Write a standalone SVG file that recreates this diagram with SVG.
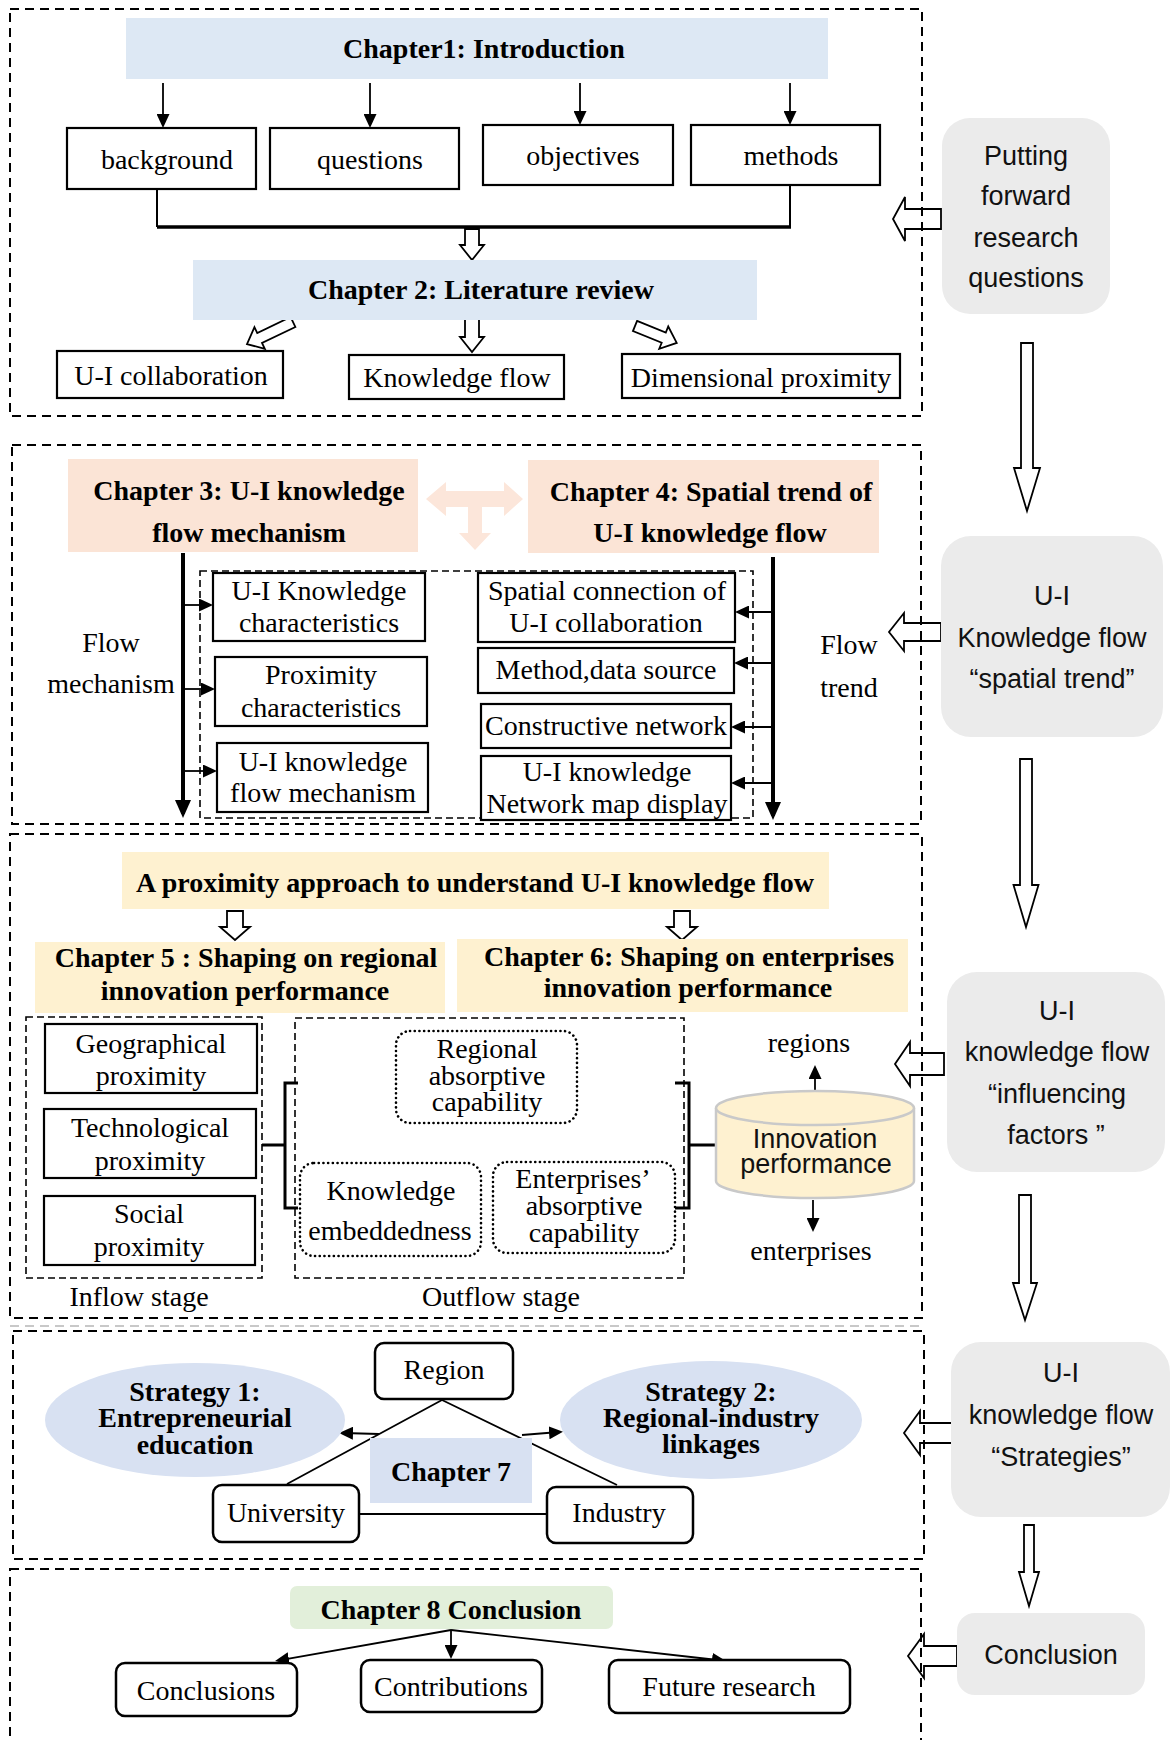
<svg xmlns="http://www.w3.org/2000/svg" width="1171" height="1740" viewBox="0 0 1171 1740">
<defs>
<style>
.sec{fill:none;stroke:#000;stroke-width:2;stroke-dasharray:9 6}
.inr{fill:none;stroke:#000;stroke-width:1.6;stroke-dasharray:7 4}
.box{fill:#fff;stroke:#000;stroke-width:2.2}
.rb{fill:#fff;stroke:#000;stroke-width:2.5}
.dot{fill:#fff;stroke:#000;stroke-width:2.6;stroke-dasharray:0.1 4.6;stroke-linecap:round}
.grey{fill:#ebebeb}
.blue{fill:#dde8f4}
.peach{fill:#fbe4d6}
.yel{fill:#fef1d0}
.lav{fill:#d8e1f2}
.grn{fill:#e2efda}
.t{font-family:"Liberation Serif","Times New Roman",serif;font-size:28px;text-anchor:middle;fill:#000}
.b{font-weight:bold}
.s{font-family:"Liberation Sans",Arial,Helvetica,sans-serif;font-size:27px;text-anchor:middle;fill:#111}
.ln{fill:none;stroke:#000;stroke-width:1.8}
.thk{fill:none;stroke:#000;stroke-width:4}
.ha{fill:#fff;stroke:#000;stroke-width:1.8}
.hs{fill:none;stroke:#000;stroke-width:1.8}
</style>
<marker id="a1" viewBox="0 0 14 13" refX="10" refY="6.5" markerWidth="14" markerHeight="13" markerUnits="userSpaceOnUse" orient="auto"><path d="M0,0 L14,6.5 L0,13 z"/></marker>
<marker id="a2" viewBox="0 0 18 16" refX="14" refY="8" markerWidth="18" markerHeight="16" markerUnits="userSpaceOnUse" orient="auto"><path d="M0,0 L18,8 L0,16 z"/></marker>
</defs>
<rect width="1171" height="1740" fill="#fff"/>

<!-- chapter frames -->
<g id="frames">
<rect class="sec" x="10" y="9" width="912" height="407"/>
<rect class="sec" x="12" y="445" width="909" height="379"/>
<rect class="sec" x="10" y="834" width="912" height="484"/>
<line x1="10" y1="1326" x2="922" y2="1326" stroke="#c8c8c8" stroke-width="2" stroke-dasharray="9 6"/>
<rect class="sec" x="13" y="1331" width="911" height="228"/>
<rect class="sec" x="10" y="1569" width="911" height="200"/>
<rect class="inr" x="200" y="571" width="553" height="247"/>
<rect class="inr" x="26" y="1017" width="236" height="261"/>
<rect class="inr" x="295" y="1018" width="389" height="260"/>
</g>

<!-- connectors -->
<g id="connectors">
<line class="ln" x1="163" y1="83" x2="163" y2="124" marker-end="url(#a1)"/>
<line class="ln" x1="370" y1="83" x2="370" y2="124" marker-end="url(#a1)"/>
<line class="ln" x1="580" y1="83" x2="580" y2="121" marker-end="url(#a1)"/>
<line class="ln" x1="790" y1="83" x2="790" y2="121" marker-end="url(#a1)"/>
<path d="M157,189 V227 M790,185 V227" fill="none" stroke="#000" stroke-width="2"/>
<line x1="157" y1="227" x2="791" y2="227" stroke="#000" stroke-width="3.5"/>
<polygon class="ha" points="465,229 479,229 479,245 484,245 472,260 460,245 465,245"/>
<polygon class="ha" points="465,316 479,316 479,337 484,337 472,352 460,337 465,337"/>
<polygon class="ha" transform="translate(293,322) rotate(154.4)" points="0,-5.5 37,-5.5 37,-12 51,0 37,12 37,5.5 0,5.5"/>
<polygon class="ha" transform="translate(635,326) rotate(22)" points="0,-5.5 31,-5.5 31,-12 45,0 31,12 31,5.5 0,5.5"/>

<polygon fill="#fce6da" points="426,499 446,482 446,491 504,491 504,482 523,499 504,516 504,507 482,507 482,533 491,533 475,550 459,533 468,533 468,507 446,507 446,516"/>
<line class="thk" x1="183" y1="553" x2="183" y2="814" marker-end="url(#a2)"/>
<line class="ln" x1="183" y1="605" x2="209" y2="605" marker-end="url(#a1)"/>
<line class="ln" x1="183" y1="689" x2="211" y2="689" marker-end="url(#a1)"/>
<line class="ln" x1="183" y1="771" x2="213" y2="771" marker-end="url(#a1)"/>
<line class="thk" x1="773" y1="557" x2="773" y2="816" marker-end="url(#a2)"/>
<line class="ln" x1="773" y1="612" x2="739" y2="612" marker-end="url(#a1)"/>
<line class="ln" x1="773" y1="663" x2="738" y2="663" marker-end="url(#a1)"/>
<line class="ln" x1="773" y1="727" x2="735" y2="727" marker-end="url(#a1)"/>
<line class="ln" x1="773" y1="783" x2="735" y2="783" marker-end="url(#a1)"/>

<polygon class="ha" points="227,911 243,911 243,927 250,927 235,940 220,927 227,927"/>
<polygon class="ha" points="674,911 690,911 690,927 697,927 682,940 667,927 674,927"/>
<path d="M262,1145 H285 M298,1083 H285 V1208 H298" fill="none" stroke="#000" stroke-width="3"/>
<path d="M675,1083 H689 V1208 H675 M689,1145 H716" fill="none" stroke="#000" stroke-width="3"/>
<line class="ln" x1="815" y1="1092" x2="815" y2="1069" marker-end="url(#a1)"/>
<line class="ln" x1="813" y1="1200" x2="813" y2="1228" marker-end="url(#a1)"/>

<path class="ln" d="M442,1400 L287,1484 M442,1400 L617,1485 M359,1514 H547"/>
<line class="ln" x1="379" y1="1434" x2="343" y2="1433" marker-end="url(#a1)"/>
<line class="ln" x1="522" y1="1435" x2="559" y2="1432" marker-end="url(#a1)"/>

<line class="ln" x1="451" y1="1630" x2="279" y2="1660.3" marker-end="url(#a1)"/>
<line class="ln" x1="451" y1="1630" x2="451" y2="1655" marker-end="url(#a1)"/>
<line class="ln" x1="451" y1="1630" x2="722" y2="1660.5" marker-end="url(#a1)"/>

<!-- side column flow -->
<polygon class="hs" points="941,209 905,209 905,197 893,219 905,241 905,229 941,229"/>
<polygon class="ha" points="1021,343 1033,343 1033,468 1040,468 1027,511 1014,468 1021,468"/>
<polygon class="hs" points="941,623 904,623 904,613 889,632 904,651 904,641 941,641"/>
<polygon class="ha" points="1020,759 1032,759 1032,885 1038.5,885 1026,927 1013.5,885 1020,885"/>
<polygon class="hs" points="944,1053 910,1053 910,1042 895,1064 910,1086 910,1075 944,1075"/>
<polygon class="ha" points="1019,1195 1031,1195 1031,1283 1037,1283 1025,1320 1013,1283 1019,1283"/>
<polygon class="hs" points="954,1423 920,1423 920,1411 904,1433 920,1455 920,1443 954,1443"/>
<polygon class="ha" points="1024,1525 1034,1525 1034,1572 1039,1572 1029,1606 1019,1572 1024,1572"/>
<polygon class="hs" points="957,1646 924,1646 924,1634 908,1656 924,1678 924,1666 957,1666"/>
</g>

<!-- chapter 1 and 2 -->
<g id="ch1"><rect class="blue" x="126" y="18" width="702" height="61"/><text class="t b" x="484" y="58">Chapter1: Introduction</text></g>
<g id="background"><rect class="box" x="67" y="128" width="189" height="61"/><text class="t" x="167" y="169">background</text></g>
<g id="questions"><rect class="box" x="270" y="128" width="189" height="61"/><text class="t" x="370" y="169">questions</text></g>
<g id="objectives"><rect class="box" x="483" y="125" width="190" height="60"/><text class="t" x="583" y="165">objectives</text></g>
<g id="methods"><rect class="box" x="691" y="125" width="189" height="60"/><text class="t" x="791" y="165">methods</text></g>
<g id="ch2"><rect class="blue" x="193" y="260" width="564" height="60"/><text class="t b" x="481" y="299">Chapter 2: Literature review</text></g>
<g id="ui-collab"><rect class="box" x="57" y="351" width="226" height="47"/><text class="t" x="171" y="385">U-I collaboration</text></g>
<g id="kflow"><rect class="box" x="349" y="355" width="215" height="44"/><text class="t" x="457" y="387">Knowledge flow</text></g>
<g id="dimprox"><rect class="box" x="622" y="354" width="278" height="44"/><text class="t" x="761" y="387">Dimensional proximity</text></g>
<g id="side1"><rect class="grey" x="942" y="118" width="168" height="196" rx="28"/>
<text class="s" x="1026" y="165">Putting</text><text class="s" x="1026" y="205">forward</text><text class="s" x="1026" y="247">research</text><text class="s" x="1026" y="287">questions</text></g>

<!-- chapter 3 and 4 -->
<g id="ch3"><rect class="peach" x="68" y="459" width="350" height="93"/><text class="t b" x="249" y="500">Chapter 3: U-I knowledge</text><text class="t b" x="249" y="542">flow mechanism</text></g>
<g id="ch4"><rect class="peach" x="528" y="460" width="351" height="93"/><text class="t b" x="711" y="501">Chapter 4: Spatial trend of</text><text class="t b" x="710" y="542">U-I knowledge flow</text></g>
<g id="flow-mech-label"><text class="t" x="111" y="652">Flow</text><text class="t" x="111" y="693">mechanism</text></g>
<g id="kchar"><rect class="box" x="213" y="573" width="212" height="68"/><text class="t" x="319" y="600">U-I Knowledge</text><text class="t" x="319" y="632">characteristics</text></g>
<g id="pchar"><rect class="box" x="215" y="657" width="212" height="69"/><text class="t" x="321" y="684">Proximity</text><text class="t" x="321" y="717">characteristics</text></g>
<g id="kmech"><rect class="box" x="217" y="743" width="211" height="69"/><text class="t" x="323" y="771">U-I knowledge</text><text class="t" x="323" y="802">flow mechanism</text></g>
<g id="spatial"><rect class="box" x="478" y="573" width="257" height="69"/><text class="t" x="607" y="600">Spatial connection of</text><text class="t" x="606" y="632">U-I collaboration</text></g>
<g id="method"><rect class="box" x="478" y="648" width="256" height="45"/><text class="t" x="606" y="679">Method,data source</text></g>
<g id="constr"><rect class="box" x="481" y="704" width="250" height="44"/><text class="t" x="606" y="735">Constructive network</text></g>
<g id="netmap"><rect class="box" x="481" y="756" width="250" height="64"/><text class="t" x="607" y="781">U-I knowledge</text><text class="t" x="607" y="813">Network map display</text></g>
<g id="flow-trend-label"><text class="t" x="849" y="654">Flow</text><text class="t" x="849" y="697">trend</text></g>
<g id="side2"><rect class="grey" x="941" y="536" width="222" height="201" rx="30"/>
<text class="s" x="1052" y="605">U-I</text><text class="s" x="1052" y="647">Knowledge flow</text><text class="s" x="1052" y="688">“spatial trend”</text></g>

<!-- chapter 5 and 6 -->
<g id="approach"><rect class="yel" x="122" y="852" width="707" height="57"/><text class="t b" x="475" y="892">A proximity approach to understand U-I knowledge flow</text></g>
<g id="ch5"><rect class="yel" x="35" y="942" width="410" height="71"/><text class="t b" x="246" y="967">Chapter 5 : Shaping on regional</text><text class="t b" x="245" y="1000">innovation performance</text></g>
<g id="ch6"><rect class="yel" x="457" y="939" width="451" height="73"/><text class="t b" x="689" y="966">Chapter 6: Shaping on enterprises</text><text class="t b" x="688" y="997">innovation performance</text></g>
<g id="geo"><rect class="box" x="45" y="1024" width="212" height="69"/><text class="t" x="151" y="1053">Geographical</text><text class="t" x="151" y="1085">proximity</text></g>
<g id="tech"><rect class="box" x="44" y="1109" width="212" height="69"/><text class="t" x="150" y="1137">Technological</text><text class="t" x="150" y="1170">proximity</text></g>
<g id="social"><rect class="box" x="44" y="1196" width="211" height="69"/><text class="t" x="149" y="1223">Social</text><text class="t" x="149" y="1256">proximity</text></g>
<g id="inflow-label"><text class="t" x="139" y="1306">Inflow stage</text></g>
<g id="outflow-label"><text class="t" x="501" y="1306">Outflow stage</text></g>
<g id="reg-abs"><rect class="dot" x="396" y="1031" width="181" height="92" rx="14"/><text class="t" x="487" y="1058">Regional</text><text class="t" x="487" y="1085">absorptive</text><text class="t" x="487" y="1111">capability</text></g>
<g id="k-emb"><rect class="dot" x="300" y="1163" width="181" height="93" rx="14"/><text class="t" x="391" y="1200">Knowledge</text><text class="t" x="390" y="1240">embeddedness</text></g>
<g id="ent-abs"><rect class="dot" x="493" y="1162" width="182" height="91" rx="14"/><text class="t" x="583" y="1188">Enterprises’</text><text class="t" x="584" y="1215">absorptive</text><text class="t" x="584" y="1242">capability</text></g>
<g id="innov"><path d="M716,1108 V1181 A99,17 0 0,0 914,1181 V1108" fill="#fef1d0" stroke="#c9c9c9" stroke-width="2.5"/><ellipse cx="815" cy="1108" rx="99" ry="17" fill="#fef1d0" stroke="#c9c9c9" stroke-width="2.5"/>
<text class="s" x="815" y="1148">Innovation</text><text class="s" x="816" y="1173">performance</text></g>
<g id="regions-label"><text class="t" x="809" y="1052">regions</text></g>
<g id="enterprises-label"><text class="t" x="811" y="1260">enterprises</text></g>
<g id="side3"><rect class="grey" x="947" y="972" width="218" height="200" rx="30"/>
<text class="s" x="1057" y="1020">U-I</text><text class="s" x="1057" y="1061">knowledge flow</text><text class="s" x="1057" y="1103">“influencing</text><text class="s" x="1056" y="1144">factors ”</text></g>

<!-- chapter 7 -->
<g id="strat1"><ellipse class="lav" cx="195" cy="1420" rx="150" ry="57"/><text class="t b" x="195" y="1401">Strategy 1:</text><text class="t b" x="195" y="1427">Entrepreneurial</text><text class="t b" x="195" y="1454">education</text></g>
<g id="strat2"><ellipse class="lav" cx="711" cy="1420" rx="151" ry="59"/><text class="t b" x="711" y="1401">Strategy 2:</text><text class="t b" x="711" y="1427">Regional-industry</text><text class="t b" x="711" y="1453">linkages</text></g>
<g id="region"><rect class="rb" x="375" y="1343" width="138" height="56" rx="9"/><text class="t" x="444" y="1379">Region</text></g>
<g id="university"><rect class="rb" x="213" y="1485" width="146" height="57" rx="9"/><text class="t" x="286" y="1522">University</text></g>
<g id="industry"><rect class="rb" x="547" y="1487" width="146" height="56" rx="9"/><text class="t" x="619" y="1522">Industry</text></g>
<g id="ch7"><rect class="lav" x="370" y="1438" width="162" height="65"/><text class="t b" x="451" y="1481">Chapter 7</text></g>
<g id="side4"><rect class="grey" x="951" y="1342" width="219" height="175" rx="30"/>
<text class="s" x="1061" y="1382">U-I</text><text class="s" x="1061" y="1424">knowledge flow</text><text class="s" x="1061" y="1466">“Strategies”</text></g>

<!-- chapter 8 -->
<g id="ch8"><rect class="grn" x="290" y="1586" width="323" height="43" rx="7"/><text class="t b" x="451" y="1619">Chapter 8 Conclusion</text></g>
<g id="conclusions"><rect class="rb" x="116" y="1663" width="181" height="53" rx="9"/><text class="t" x="206" y="1700">Conclusions</text></g>
<g id="contributions"><rect class="rb" x="361" y="1660" width="181" height="52" rx="9"/><text class="t" x="451" y="1696">Contributions</text></g>
<g id="future"><rect class="rb" x="609" y="1660" width="241" height="53" rx="9"/><text class="t" x="729" y="1696">Future research</text></g>
<g id="side5"><rect class="grey" x="957" y="1613" width="188" height="82" rx="18"/><text class="s" x="1051" y="1664">Conclusion</text></g>
</svg>
